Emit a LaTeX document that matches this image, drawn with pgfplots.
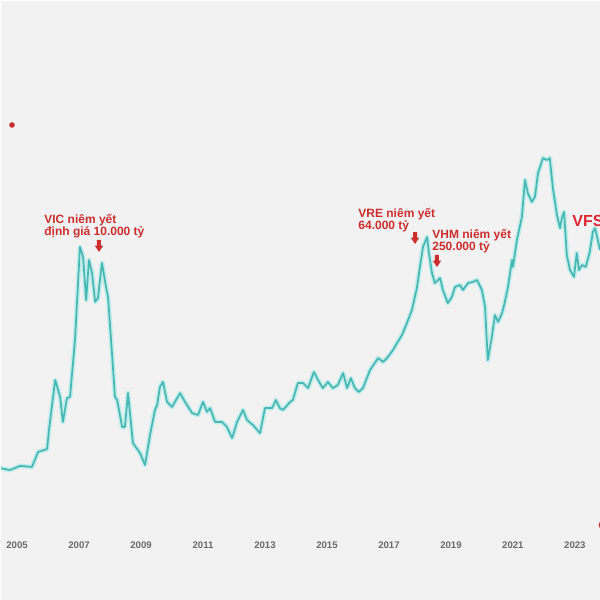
\documentclass[border=0pt]{standalone}
\usepackage{fontspec}
\setmainfont{Liberation Sans}
\usepackage{pgfplots}
\usepackage{pgfplotstable}
\pgfplotsset{compat=1.18}
\definecolor{bg}{RGB}{242,242,242}
\definecolor{teal1}{RGB}{70,184,180}
\definecolor{glow}{RGB}{175,234,231}
\definecolor{anno}{RGB}{204,46,46}
\definecolor{vfs}{RGB}{222,38,50}
\definecolor{tickc}{RGB}{105,105,105}
\pgfplotstableread{
year value
2004.45 222
2004.77 214
2005.10 231
2005.48 227
2005.68 290
2005.97 302
2006.03 382
2006.23 592
2006.39 521
2006.48 416
2006.61 516
2006.71 521
2006.87 760
2007.03 1151
2007.13 1109
2007.23 928
2007.32 1096
2007.42 1041
2007.52 920
2007.61 936
2007.74 1083
2007.87 983
2007.94 936
2008.16 521
2008.23 508
2008.39 395
2008.48 395
2008.58 537
2008.74 327
2008.97 285
2009.13 235
2009.29 361
2009.45 466
2009.52 487
2009.61 563
2009.71 584
2009.84 500
2010.00 479
2010.26 537
2010.42 500
2010.65 453
2010.84 445
2011.00 500
2011.13 458
2011.23 474
2011.39 416
2011.61 416
2011.77 395
2011.94 348
2012.10 416
2012.29 466
2012.42 424
2012.61 403
2012.84 369
2013.00 474
2013.23 474
2013.35 508
2013.48 474
2013.58 466
2013.81 500
2013.90 508
2014.06 579
2014.23 579
2014.39 558
2014.58 626
2014.71 592
2014.87 558
2015.03 584
2015.19 558
2015.35 571
2015.52 621
2015.65 558
2015.77 600
2015.90 558
2016.03 542
2016.16 558
2016.39 634
2016.65 684
2016.81 668
2016.94 684
2017.13 718
2017.26 747
2017.42 781
2017.58 831
2017.74 886
2017.90 978
2018.00 1067
2018.10 1151
2018.23 1193
2018.29 1125
2018.39 1041
2018.48 999
2018.65 1020
2018.74 970
2018.90 915
2019.03 941
2019.13 983
2019.29 991
2019.39 970
2019.55 999
2019.71 1004
2019.84 1012
2020.00 970
2020.10 899
2020.19 676
2020.32 773
2020.42 865
2020.52 836
2020.65 873
2020.74 920
2020.84 983
2020.97 1096
2021.00 1067
2021.13 1180
2021.29 1277
2021.39 1432
2021.48 1377
2021.61 1340
2021.71 1361
2021.81 1461
2021.97 1524
2022.10 1516
2022.19 1524
2022.29 1398
2022.42 1285
2022.52 1230
2022.58 1272
2022.65 1298
2022.74 1117
2022.84 1054
2022.97 1025
2023.06 1125
2023.13 1054
2023.23 1075
2023.35 1067
2023.48 1130
2023.58 1214
2023.65 1230
2023.74 1180
2023.81 1138
}\vnindex
\newcommand\darrow[2]{\fill[anno] (rel axis cs:#1,#2) ++(-1pt,0pt) -- ++(2pt,0pt) -- ++(0pt,-2.8pt) -- ++(1.1pt,0pt) -- ++(-2.1pt,-3.2pt) -- ++(-2.1pt,3.2pt) -- ++(1.1pt,0pt) -- cycle;}
\begin{document}
\begin{tikzpicture}
\useasboundingbox (0pt,0pt) rectangle (300pt,300pt);
\clip (0pt,0pt) rectangle (300pt,300pt);
\begin{axis}[
  at={(0pt,0pt)}, anchor=south west,
  scale only axis, width=300pt, height=300pt,
  xmin=2004.45, xmax=2023.81, ymin=-332, ymax=2188,
  axis line style={draw=none},
  axis background/.style={fill=bg},
  ytick=\empty,
  xtick={2005,2007,...,2023},
  major tick length=0pt,
  /pgf/number format/assume math mode=true,
  /pgf/number format/1000 sep={},
  xticklabel style={font=\fontsize{4.8}{5}\selectfont\bfseries, text=tickc, anchor=center, yshift=27.5pt},
  clip=false,
]
\addplot[glow, line width=2.4pt, opacity=0.7, line join=round] table[x=year, y=value] {\vnindex};
\addplot[teal1, line width=0.85pt, line join=round] table[x=year, y=value] {\vnindex};
\draw[white, line width=1pt] (rel axis cs:0,0) -- (rel axis cs:0,1) -- (rel axis cs:1,1);
\node[anchor=base west, inner sep=0pt, font=\fontsize{6}{6}\selectfont\bfseries, text=anno] at (rel axis cs:0.0733,0.6283) {VIC niêm yết};
\node[anchor=base west, inner sep=0pt, font=\fontsize{6}{6}\selectfont\bfseries, text=anno] at (rel axis cs:0.0733,0.6083) {định giá 10.000 tỷ};
\darrow{0.165}{0.600}
\node[anchor=base west, inner sep=0pt, font=\fontsize{6}{6}\selectfont\bfseries, text=anno] at (rel axis cs:0.5967,0.6367) {VRE niêm yết};
\node[anchor=base west, inner sep=0pt, font=\fontsize{6}{6}\selectfont\bfseries, text=anno] at (rel axis cs:0.5967,0.6183) {64.000 tỷ};
\darrow{0.6917}{0.6133}
\node[anchor=base west, inner sep=0pt, font=\fontsize{6}{6}\selectfont\bfseries, text=anno] at (rel axis cs:0.72,0.6033) {VHM niêm yết};
\node[anchor=base west, inner sep=0pt, font=\fontsize{6}{6}\selectfont\bfseries, text=anno] at (rel axis cs:0.72,0.5833) {250.000 tỷ};
\darrow{0.7283}{0.575}
\node[anchor=base west, inner sep=0pt, font=\fontsize{8}{8}\selectfont\bfseries, text=vfs] at (rel axis cs:0.9533,0.6217) {VFS};
\fill[anno] (rel axis cs:0.02,0.7917) circle[radius=1.4pt];
\fill[anno] (rel axis cs:1.006,0.125) circle[radius=2.5pt];
\end{axis}
\end{tikzpicture}
\end{document}
